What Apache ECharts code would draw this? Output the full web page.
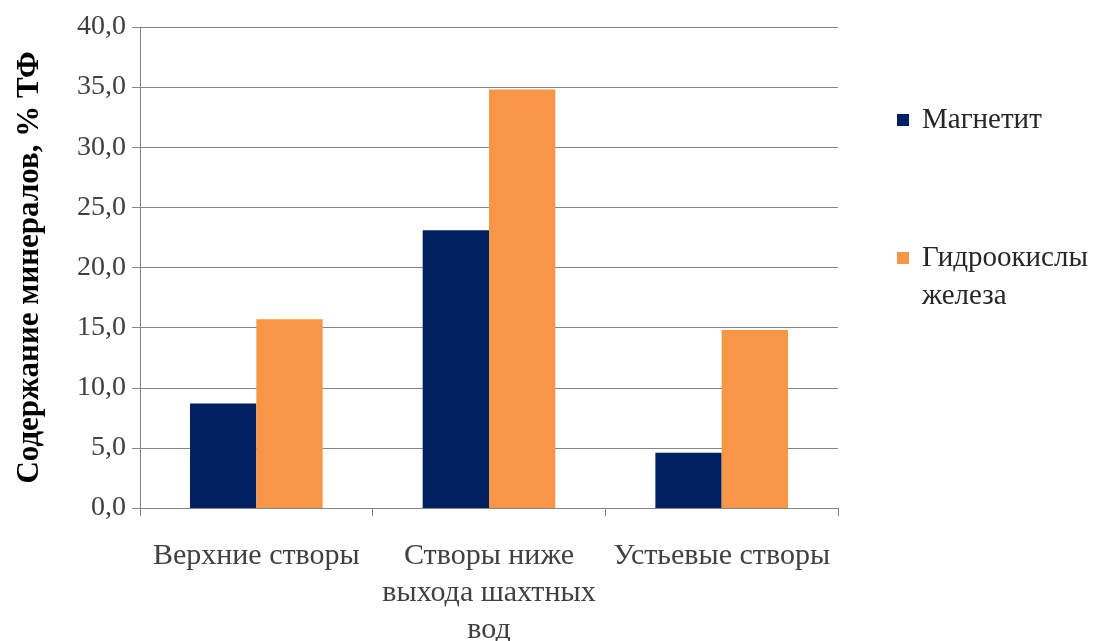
<!DOCTYPE html>
<html>
<head>
<meta charset="utf-8">
<script src="https://cdn.jsdelivr.net/npm/echarts@6/dist/echarts.min.js"></script>
<style>
html,body{margin:0;padding:0;background:#fff;}
#chart{width:1110px;height:641px;}
</style>
</head>
<body>
<div id="chart"></div>
<script>
const categories = ['Верхние створы', 'Створы ниже\nвыхода шахтных\nвод', 'Устьевые створы'];
const magnetite = [8.7, 23.1, 4.6];
const hydroxides = [15.7, 34.8, 14.8];
const seriesNames = ['Магнетит', 'Гидроокислы железа'];
const yAxisTitle = 'Содержание минералов, % ТФ';

const FONT = '"Liberation Serif", "Times New Roman", serif';
const chart = echarts.init(document.getElementById('chart'));
chart.setOption({
  animation: false,
  backgroundColor: '#fff',
  grid: { left: 140, right: 272, top: 27, bottom: 133, outerBoundsMode: 'none', containLabel: false },
  legend: {
    orient: 'vertical',
    left: 897,
    top: 101,
    padding: 0,
    itemGap: 62,
    itemWidth: 12,
    itemHeight: 12,
    icon: 'rect',
    formatter: n => n === seriesNames[1] ? '{t|\u00a0}\n{t|Гидроокислы}\n{t|железа}' : '{t|' + n + '}',
    textStyle: {
      fontFamily: FONT, fontSize: 29, color: '#262626', lineHeight: 38,
      rich: {
        t: { fontFamily: FONT, fontSize: 29, color: '#262626', lineHeight: 38, padding: [0, 0, 0, 8] }
      }
    },
    data: seriesNames
  },
  xAxis: {
    type: 'category',
    data: categories,
    axisLine: { lineStyle: { color: '#868686', width: 1 } },
    axisTick: { show: true, length: 8, alignWithLabel: false, lineStyle: { color: '#868686' } },
    axisLabel: { interval: 0, margin: 30, fontFamily: FONT, fontSize: 30, lineHeight: 37, color: '#404040' }
  },
  yAxis: {
    type: 'value',
    min: 0, max: 40, interval: 5,
    name: yAxisTitle,
    nameLocation: 'middle',
    nameGap: 95,
    nameTextStyle: { fontFamily: FONT, fontSize: 31, fontWeight: 'bold', color: '#000' },
    axisLine: { show: true, lineStyle: { color: '#868686', width: 1 } },
    axisTick: { show: true, length: 8, lineStyle: { color: '#868686' } },
    splitLine: { lineStyle: { color: '#868686', width: 1 } },
    axisLabel: {
      margin: 14,
      fontFamily: FONT, fontSize: 28, color: '#404040',
      formatter: v => v.toFixed(1).replace('.', ',')
    }
  },
  series: [
    { name: seriesNames[0], type: 'bar', data: magnetite, itemStyle: { color: '#002060' }, barGap: '0%', barCategoryGap: '43%' },
    { name: seriesNames[1], type: 'bar', data: hydroxides, itemStyle: { color: '#F79646' } }
  ]
});
</script>
</body>
</html>
